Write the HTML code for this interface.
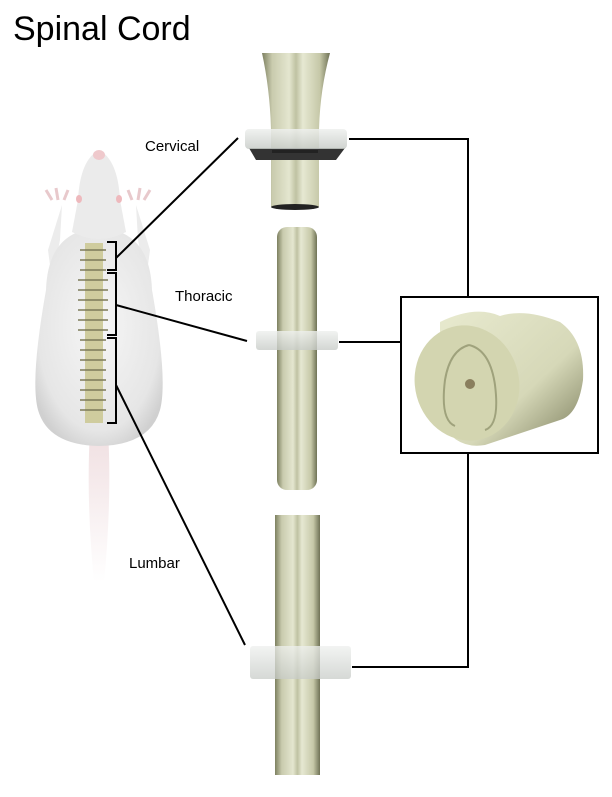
<!DOCTYPE html>
<html><head><style>
body{margin:0;background:#fff;width:612px;height:792px;overflow:hidden;font-family:"Liberation Sans",Arial,sans-serif}
</style></head><body>
<svg width="612" height="792" xmlns="http://www.w3.org/2000/svg">
<defs>
<linearGradient id="cord" x1="0" x2="1" y1="0" y2="0">
<stop offset="0" stop-color="#7d8060"/><stop offset="0.15" stop-color="#c9cbae"/><stop offset="0.4" stop-color="#e4e6cf"/><stop offset="0.5" stop-color="#bfc2a2"/><stop offset="0.6" stop-color="#e6e8d2"/><stop offset="0.85" stop-color="#c6c8a8"/><stop offset="1" stop-color="#6f7255"/>
</linearGradient>
<linearGradient id="clamp" x1="0" x2="0" y1="0" y2="1">
<stop offset="0" stop-color="#eef0ee"/><stop offset="1" stop-color="#c8ccc8"/>
</linearGradient>
<radialGradient id="body" cx="0.5" cy="0.45" r="0.6">
<stop offset="0" stop-color="#f6f6f6"/><stop offset="0.8" stop-color="#e6e6e6"/><stop offset="1" stop-color="#d0d0d0"/>
</radialGradient>
<linearGradient id="tail" x1="0" x2="0" y1="0" y2="1">
<stop offset="0" stop-color="#f0dfe1"/><stop offset="1" stop-color="#ffffff"/>
</linearGradient>
<linearGradient id="cyl" x1="0" x2="1" y1="0" y2="1">
<stop offset="0" stop-color="#e8eacf"/><stop offset="0.6" stop-color="#d6d8b8"/><stop offset="1" stop-color="#7b7d5c"/>
</linearGradient>
</defs>
<text x="13" y="40" font-size="34" fill="#000">Spinal Cord</text>

<!-- rat -->
<path d="M90 430 Q86 500 94 582 L104 582 Q112 500 108 430Z" fill="url(#tail)"/>
<path d="M62 205 L48 250 L52 280 L60 240Z M136 205 L150 250 L146 280 L138 240Z" fill="#ececec"/>
<path d="M52 200 l-6 -10 M58 200 l-2 -12 M64 200 l4 -10 M132 200 l-4 -10 M138 200 l2 -12 M144 200 l6 -10" stroke="#e8c9cc" stroke-width="3"/>
<path d="M99 228 Q150 230 152 290 Q168 380 160 410 Q150 445 99 446 Q48 445 38 410 Q30 380 46 290 Q48 230 99 228Z" fill="url(#body)"/>
<path d="M99 150 Q118 160 120 200 L126 232 Q99 246 72 232 L78 200 Q80 160 99 150Z" fill="#ebebeb"/>
<ellipse cx="99" cy="155" rx="6" ry="5" fill="#efc9cc"/>
<ellipse cx="79" cy="199" rx="3" ry="4" fill="#eeb9bd"/><ellipse cx="119" cy="199" rx="3" ry="4" fill="#eeb9bd"/>
<rect x="85" y="243" width="18" height="180" fill="#cfcc9e"/>
<g stroke="#7c7a58" stroke-width="1.5">
<path d="M80 250h26M80 260h26M80 270h26M78 280h30M78 290h30M78 300h30M78 310h30M78 320h30M78 330h30M80 340h26M80 350h26M80 360h26M80 370h26M80 380h26M80 390h26M80 400h26M80 410h26"/>
</g>
<g stroke="#000" stroke-width="2" fill="none">
<path d="M107 242h9v28h-9M116 258l122-120"/>
<path d="M107 273h9v62h-9M116 305l131 36"/>
<path d="M107 338h9v85h-9M116 385l129 260"/>
</g>
<text x="145" y="151" font-size="15">Cervical</text>
<text x="175" y="301" font-size="15">Thoracic</text>
<text x="129" y="568" font-size="15">Lumbar</text>

<!-- connectors -->
<g stroke="#000" stroke-width="2" fill="none">
<path d="M349 139H468V296"/>
<path d="M339 342H400"/>
<path d="M468 453V667H352"/>
</g>
<rect x="401" y="297" width="197" height="156" fill="#fff" stroke="#000" stroke-width="2"/>

<!-- cervical cord -->
<path d="M262 53 L330 53 Q320 90 319 130 L319 207 L271 207 L271 130 Q270 90 262 53Z" fill="url(#cord)"/>
<ellipse cx="295" cy="207" rx="24" ry="3" fill="#222"/>
<path d="M249 148 L345 148 L336 160 L256 160Z" fill="#333"/>
<rect x="245" y="129" width="102" height="20" rx="4" fill="url(#clamp)" opacity="0.85"/>
<rect x="272" y="150" width="46" height="3" fill="#222"/>

<!-- thoracic cord -->
<rect x="277" y="227" width="40" height="263" rx="10" fill="url(#cord)"/>
<rect x="256" y="331" width="82" height="19" rx="3" fill="url(#clamp)" opacity="0.8"/>

<!-- lumbar cord -->
<rect x="275" y="515" width="45" height="260" fill="url(#cord)"/>
<rect x="250" y="646" width="101" height="33" rx="3" fill="url(#clamp)" opacity="0.75"/>

<!-- cross section -->
<path d="M440 322 Q475 305 500 316 Q525 308 560 322 Q585 340 583 380 Q578 415 560 420 L485 445 Q455 450 440 420Z" fill="url(#cyl)"/>
<ellipse cx="467" cy="383" rx="52" ry="58" fill="#d3d5b0" transform="rotate(-15 467 383)"/>
<path d="M469 345 Q450 350 445 380 Q440 420 455 426 M469 345 Q490 350 495 385 Q500 425 485 430" stroke="#9fa27c" stroke-width="2" fill="none"/>
<circle cx="470" cy="384" r="5" fill="#8a7f5e"/>
</svg>
</body></html>
